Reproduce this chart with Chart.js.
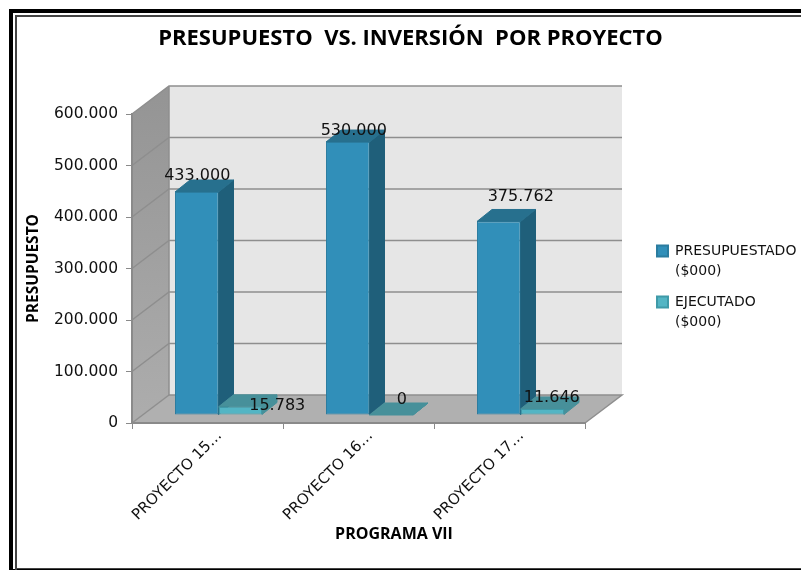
<!DOCTYPE html>
<html>
<head>
<meta charset="utf-8">
<title>Presupuesto vs. Inversión</title>
<script src="https://cdn.jsdelivr.net/npm/chart.js@4"></script>
<style>
  html, body { margin: 0; padding: 0; background: #fff; }
  #wrap { width: 801px; height: 570px; }
</style>
</head>
<body>
<div id="wrap"><canvas id="myChart" width="801" height="570"></canvas></div>
<script>
// Datos
const categorias = ['PROYECTO 15…', 'PROYECTO 16…', 'PROYECTO 17…'];
const presupuestado = [433000, 530000, 375762];
const ejecutado = [15783, 0, 11646];
const serie1 = ['PRESUPUESTADO', '($000)'];
const serie2 = ['EJECUTADO', '($000)'];
const titulo = 'PRESUPUESTO  VS. INVERSIÓN  POR PROYECTO';
const tituloY = 'PRESUPUESTO';
const tituloX = 'PROGRAMA VII';

const fuente = '"DejaVu Sans", sans-serif';
const fuenteBold = '"Open Sans", sans-serif';

// profundidad del grafico 3D (pixeles)
const wallDx = 37, wallDy = 28;
const barDx = 11, barDy = 8;
const faceDx = 15, faceDy = 12;

const caras = [
   { top: '#27708e', side: '#1f5f7a' },
   { top: '#47909a', side: '#47909a' }
];
// ajuste de cada etiqueta respecto al centro de la cara superior de la barra
const ajusteEtiquetas = [
   [[0.5, -16], [6, -11.5], [22, -24.5]],
   [[37, -1], [10.5, -15], [9.5, -11]]
];

function fmt(v) {
   return String(v).replace(/\B(?=(\d{3})+(?!\d))/g, '.');
}

function poligono(ctx, pts, fill, stroke) {
   ctx.beginPath();
   pts.forEach(function (p, i) {
      if (i === 0) ctx.moveTo(p[0], p[1]); else ctx.lineTo(p[0], p[1]);
   });
   ctx.closePath();
   if (fill) { ctx.fillStyle = fill; ctx.fill(); }
   if (stroke) { ctx.strokeStyle = stroke; ctx.lineWidth = 1; ctx.stroke(); }
}

const grafico3d = {
   id: 'grafico3d',
   beforeLayout(chart) {
      // el bloque de la leyenda reserva el margen derecho hasta el area del grafico
      const legend = chart.legend;
      if (!legend._fitOriginal) {
         legend._fitOriginal = legend.fit;
         legend.fit = function () {
            this._fitOriginal();
            this.width = 216;
         };
      }
   },
   afterLayout(chart) {
      chart.legend.left = 646;
      chart.legend.top = 233;
   },
   beforeDraw(chart) {
      const ctx = chart.ctx;
      const x = chart.scales.x, y = chart.scales.y;
      const L = x.left, R = x.right, T = y.top, B = y.bottom;

      ctx.save();
      ctx.fillStyle = '#fff';
      ctx.fillRect(0, 0, chart.width, chart.height);

      // marco
      ctx.fillStyle = '#000';
      ctx.fillRect(9, 9, chart.width - 9, 4);
      ctx.fillRect(9, 9, 4, chart.height - 9);
      ctx.fillRect(9, 569, chart.width - 9, 1);
      ctx.fillStyle = '#444';
      ctx.fillRect(15, 15, chart.width - 15, 2);
      ctx.fillRect(15, 15, 2, chart.height - 15);
      ctx.fillRect(15, 568, chart.width - 15, 1);

      // paredes y piso
      poligono(ctx, [[L + wallDx, T - wallDy], [R + wallDx, T - wallDy], [R + wallDx, B - wallDy], [L + wallDx, B - wallDy]], '#e6e6e6');
      const g = ctx.createLinearGradient(0, T - wallDy, 0, B);
      g.addColorStop(0, '#949494');
      g.addColorStop(1, '#adadad');
      poligono(ctx, [[L, T], [L + wallDx, T - wallDy], [L + wallDx, B - wallDy], [L, B]], g);
      poligono(ctx, [[L, B], [R, B], [R + wallDx, B - wallDy], [L + wallDx, B - wallDy]], '#b0b0b0');

      // lineas de division
      ctx.lineWidth = 1.5;
      ctx.strokeStyle = '#8e8e8e';
      y.ticks.forEach(function (t) {
         const py = y.getPixelForValue(t.value);
         ctx.beginPath();
         ctx.moveTo(L, py);
         ctx.lineTo(L + wallDx, py - wallDy);
         if (t.value > 0) ctx.lineTo(R + wallDx, py - wallDy);
         ctx.stroke();
      });
      ctx.beginPath();
      ctx.moveTo(L + wallDx, T - wallDy);
      ctx.lineTo(L + wallDx, B - wallDy);
      ctx.lineTo(R + wallDx, B - wallDy);
      ctx.lineTo(R, B);
      ctx.stroke();
      ctx.restore();
   },
   beforeDatasetsDraw(chart) {
      const ctx = chart.ctx;
      ctx.save();
      ctx.translate(barDx, -barDy);
      // caras laterales y superiores
      chart.data.datasets.forEach(function (ds, d) {
         chart.getDatasetMeta(d).data.forEach(function (el) {
            const l = el.x - el.width / 2, r = el.x + el.width / 2;
            poligono(ctx, [[r, el.y], [r + faceDx, el.y - faceDy], [r + faceDx, el.base - faceDy], [r, el.base]], caras[d].side, caras[d].side);
            poligono(ctx, [[l, el.y], [r, el.y], [r + faceDx, el.y - faceDy], [l + faceDx, el.y - faceDy]], caras[d].top, caras[d].top);
         });
      });
   },
   afterDatasetsDraw(chart) {
      const ctx = chart.ctx;
      ctx.restore();
      ctx.save();
      ctx.font = '16px ' + fuente;
      ctx.fillStyle = '#111';
      ctx.textAlign = 'center';
      ctx.textBaseline = 'middle';
      chart.data.datasets.forEach(function (ds, d) {
         chart.getDatasetMeta(d).data.forEach(function (el, i) {
            const a = ajusteEtiquetas[d][i];
            ctx.fillText(fmt(ds.data[i]), el.x + barDx + a[0], el.y - barDy + a[1]);
         });
      });
      // titulo del eje X, centrado sobre la base en perspectiva
      ctx.font = 'bold 16px ' + fuenteBold;
      ctx.fillStyle = '#000';
      ctx.fillText(tituloX, 394, 534);
      ctx.restore();
   }
};

const myChart = new Chart(document.getElementById('myChart'), {
   type: 'bar',
   data: {
      labels: categorias,
      datasets: [{
         label: serie1,
         data: presupuestado,
         backgroundColor: '#318fb9',
         borderColor: '#2b7c9f',
         borderWidth: 1,
         borderSkipped: false
      }, {
         label: serie2,
         data: ejecutado,
         backgroundColor: '#53b5c4',
         borderColor: '#3f9aa8',
         borderWidth: 1,
         borderSkipped: false
      }]
   },
   options: {
      responsive: false,
      animation: false,
      layout: { padding: { left: 20 } },
      datasets: { bar: { categoryPercentage: 0.576, barPercentage: 1, clip: false } },
      scales: {
         x: {
            afterFit: function (s) { s.height = 147; },
            border: { color: '#8a8a8a', width: 2 },
            grid: { drawOnChartArea: false, color: '#8a8a8a', tickLength: 6 },
            ticks: {
               minRotation: 45,
               maxRotation: 45,
               labelOffset: 12,
               padding: -2,
               autoSkip: false,
               color: '#111',
               font: { family: fuente, size: 15 }
            }
         },
         y: {
            min: 0,
            max: 600000,
            afterFit: function (s) { s.width = 112; },
            border: { color: '#8a8a8a', width: 2 },
            grid: { drawOnChartArea: false, color: '#8a8a8a', tickLength: 6 },
            ticks: {
               stepSize: 100000,
               padding: 8,
               color: '#111',
               font: { family: fuente, size: 15.5 },
               callback: function (v) { return fmt(v); }
            },
            title: {
               display: true,
               text: tituloY,
               color: '#000',
               padding: { top: 4, bottom: 0 },
               font: { family: fuenteBold, size: 15.5, weight: 'bold' }
            }
         }
      },
      plugins: {
         tooltip: { enabled: false },
         title: {
            display: true,
            text: titulo,
            color: '#000',
            padding: { top: 25.8, bottom: 61.8 },
            font: { family: fuenteBold, size: 22, weight: 'bold', lineHeight: 1.2 }
         },
         legend: {
            position: 'right',
            align: 'start',
            labels: {
               boxWidth: 11,
               boxHeight: 11,
               padding: 11,
               color: '#111',
               font: { family: fuente, size: 14, lineHeight: 1.43 },
               generateLabels: function (chart) {
                  const items = Chart.defaults.plugins.legend.labels.generateLabels(chart);
                  items.forEach(function (it) { it.lineWidth = 2; });
                  return items;
               }
            }
         }
      }
   },
   plugins: [grafico3d]
});
</script>
</body>
</html>
